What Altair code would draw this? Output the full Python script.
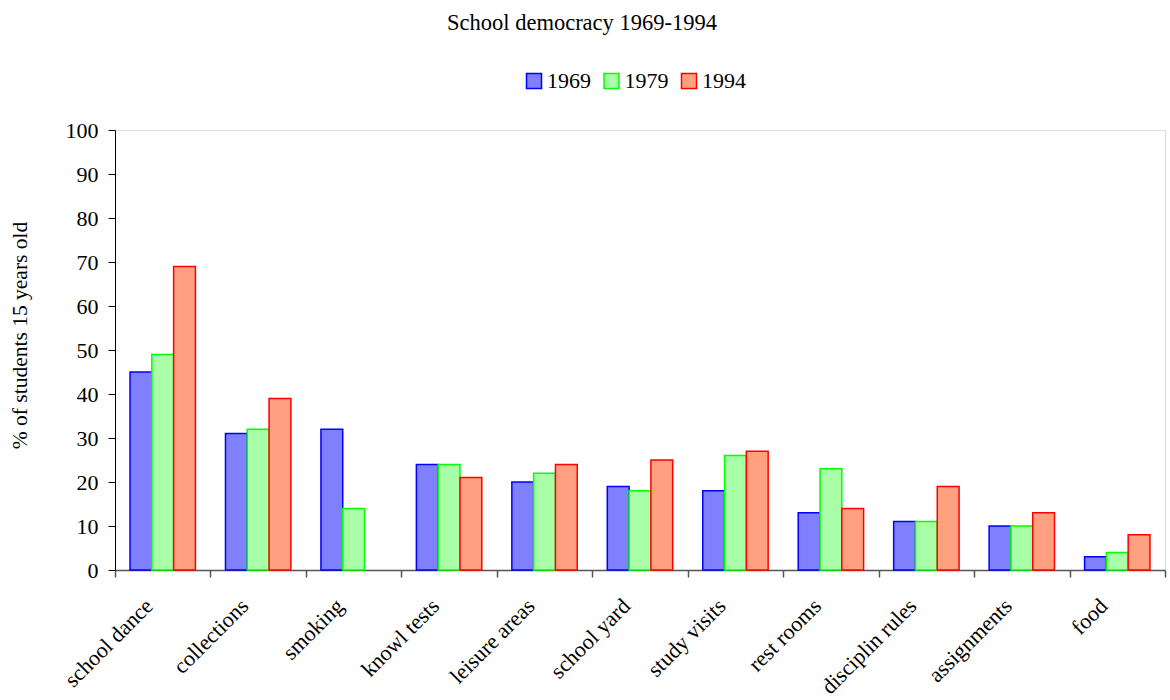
import altair as alt
import pandas as pd

categories = ["school dance", "collections", "smoking", "knowl tests", "leisure areas",
              "school yard", "study visits", "rest rooms", "disciplin rules",
              "assignments", "food"]
years = ["1969", "1979", "1994"]
v1969 = [45, 31, 32, 24, 20, 19, 18, 13, 11, 10, 3]
v1979 = [49, 32, 14, 24, 22, 18, 26, 23, 11, 10, 4]
v1994 = [69, 39, None, 21, 24, 25, 27, 14, 19, 13, 8]
y_ticks = list(range(0, 101, 10))

rows = []
for yr, vals in zip(years, [v1969, v1979, v1994]):
    for c, v in zip(categories, vals):
        if v is not None:
            rows.append({"category": c, "year": yr, "value": v})
df = pd.DataFrame(rows)

fills = ["#8080FF", "#A8FFA8", "#FFA080"]
strokes = ["#0000FF", "#00FF00", "#FF0000"]
FONT = "Liberation Serif"

legend_kw = dict(title=None, orient="none", legendX=408, legendY=-60,
                 direction="horizontal", symbolType="square", symbolSize=225,
                 symbolStrokeWidth=1.5, symbolOpacity=1, labelFont=FONT,
                 labelFontSize=22, labelColor="black", labelOffset=2,
                 columnPadding=9.5, padding=0)

chart = alt.Chart(df).mark_bar(strokeWidth=1.5, fillOpacity=1, strokeOpacity=1).encode(
    x=alt.X("category:N", sort=categories,
            scale=alt.Scale(paddingInner=0, paddingOuter=0),
            axis=alt.Axis(title=None, labelAngle=315, labelAlign="right",
                          labelBaseline="top", labelOffset=-21, labelPadding=18,
                          tickBand="extent", tickSize=7, domainColor="#555555",
                          tickColor="#555555", domainWidth=1.5, tickWidth=1.5,
                          labelFont=FONT, labelFontSize=22, labelColor="black",
                          labelOverlap=False, labelFlush=False, labelLimit=300)),
    xOffset=alt.XOffset("year:N", sort=years,
                        scale=alt.Scale(paddingInner=0, paddingOuter=0.689)),
    y=alt.Y("value:Q", scale=alt.Scale(domain=[0, 100], nice=False),
            axis=alt.Axis(values=y_ticks, title="% of students 15 years old",
                          grid=False, tickSize=7, labelPadding=10,
                          domainColor="black", tickColor="black",
                          labelFont=FONT, labelFontSize=22, labelColor="black",
                          titleFont=FONT, titleFontSize=21.5, titleFontWeight="normal",
                          titleColor="black", titleAngle=270, titleX=-95, titleY=205,
                          titleAlign="center", titleBaseline="middle")),
    fill=alt.Fill("year:N", scale=alt.Scale(domain=years, range=fills),
                  legend=alt.Legend(**legend_kw)),
    stroke=alt.Stroke("year:N", scale=alt.Scale(domain=years, range=strokes),
                      legend=alt.Legend(**legend_kw)),
).properties(
    width=1050, height=440,
    padding={"left": 115, "top": 130, "right": 5, "bottom": 130},
    autosize="none",
    title=alt.TitleParams("School democracy 1969-1994", font=FONT, fontSize=22.5,
                          fontWeight="normal", color="black", anchor="middle",
                          dx=-58, dy=22, offset=40, baseline="alphabetic"),
).configure_view(stroke=None).configure(background="white")

chart.save("out.html", embed_options={"renderer": "svg", "actions": False})
